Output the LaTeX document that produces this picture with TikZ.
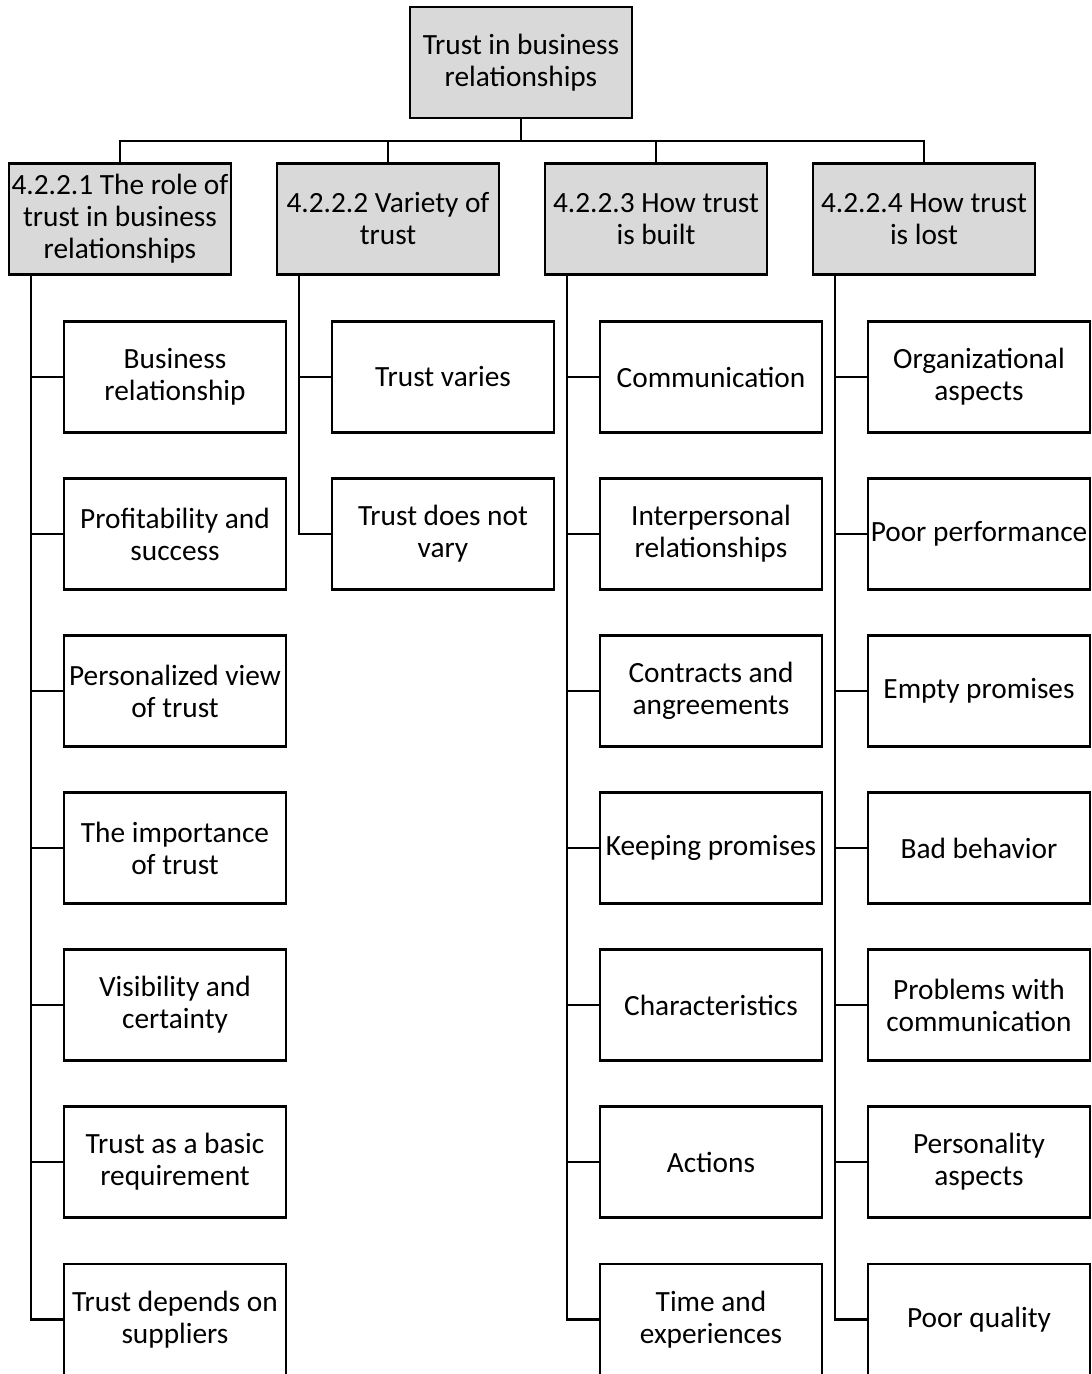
\documentclass[tikz,border=0pt]{standalone}
\usepackage{fontspec}
\setmainfont{Carlito}
\definecolor{boxgray}{HTML}{D9D9D9}
\begin{document}
\begin{tikzpicture}[x=0.75pt,y=-0.75pt,
  every node/.style={font=\fontsize{22pt}{24pt}\selectfont, align=center},
  box/.style={draw=black, line width=2pt, rectangle, minimum width=166.5pt, minimum height=83.25pt, inner sep=0pt},
  headbox/.style={box, fill=boxgray},
  leafbox/.style={box, fill=white},
  conn/.style={line width=2pt, line cap=rect}]
\useasboundingbox (0,0) rectangle (1092,1374);
\clip (0,0) rectangle (1092,1374);

\node[headbox] (top) at (521,62.5) {Trust in business\\relationships};
\coordinate (bus) at (0,141);

\node[headbox] (h1) at (120,219) {4.2.2.1 The role of\\trust in business\\relationships};
\node[headbox] (h2) at (388,219) {4.2.2.2 Variety of\\trust};
\node[headbox] (h3) at (656,219) {4.2.2.3 How trust\\is built};
\node[headbox] (h4) at (924,219) {4.2.2.4 How trust\\is lost};

\foreach \h in {h1,h2,h3,h4}
  \draw[conn] (top.south) -- (top.south |- bus) -| (\h.north);

% column 1
\node[leafbox] (a1) at (175,377) {Business\\relationship};
\node[leafbox] (a2) at (175,534) {Profitability and\\success};
\node[leafbox] (a3) at (175,691) {Personalized view\\of trust};
\node[leafbox] (a4) at (175,848) {The importance\\of trust};
\node[leafbox] (a5) at (175,1005) {Visibility and\\certainty};
\node[leafbox] (a6) at (175,1162) {Trust as a basic\\requirement};
\node[leafbox] (a7) at (175,1319.5) {Trust depends on\\suppliers};

% column 2
\node[leafbox] (b1) at (443,377) {Trust varies};
\node[leafbox] (b2) at (443,534) {Trust does not\\vary};

% column 3
\node[leafbox] (c1) at (711,377) {Communication};
\node[leafbox] (c2) at (711,534) {Interpersonal\\relationships};
\node[leafbox] (c3) at (711,691) {Contracts and\\angreements};
\node[leafbox] (c4) at (711,848) {Keeping promises};
\node[leafbox] (c5) at (711,1005) {Characteristics};
\node[leafbox] (c6) at (711,1162) {Actions};
\node[leafbox] (c7) at (711,1319.5) {Time and\\experiences};

% column 4
\node[leafbox] (d1) at (979,377) {Organizational\\aspects};
\node[leafbox] (d2) at (979,534) {Poor performance};
\node[leafbox] (d3) at (979,691) {Empty promises};
\node[leafbox] (d4) at (979,848) {Bad behavior};
\node[leafbox] (d5) at (979,1005) {Problems with\\communication};
\node[leafbox] (d6) at (979,1162) {Personality\\aspects};
\node[leafbox] (d7) at (979,1319.5) {Poor quality};

\foreach \c in {a1,a2,a3,a4,a5,a6,a7}
  \draw[conn] ([xshift=17.5pt]h1.south west) |- (\c.west);
\foreach \c in {b1,b2}
  \draw[conn] ([xshift=17.5pt]h2.south west) |- (\c.west);
\foreach \c in {c1,c2,c3,c4,c5,c6,c7}
  \draw[conn] ([xshift=17.5pt]h3.south west) |- (\c.west);
\foreach \c in {d1,d2,d3,d4,d5,d6,d7}
  \draw[conn] ([xshift=17.5pt]h4.south west) |- (\c.west);
\end{tikzpicture}
\end{document}
